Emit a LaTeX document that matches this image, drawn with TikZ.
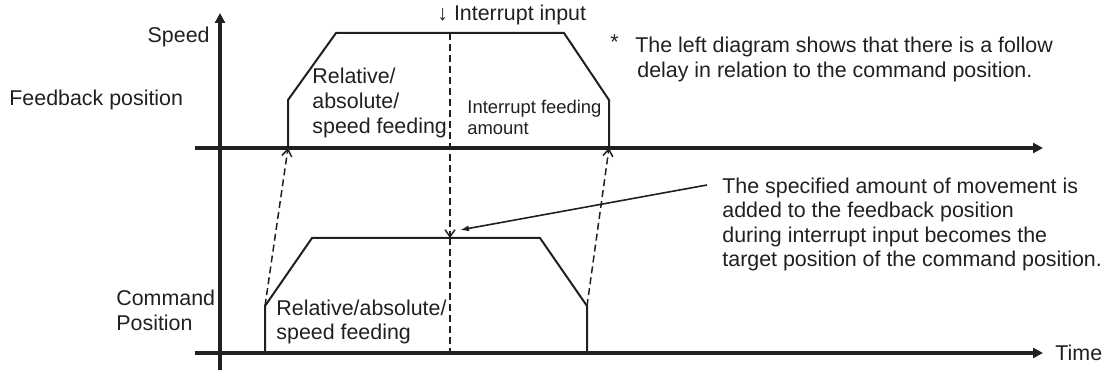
\documentclass[tikz,border=0pt]{standalone}
\usepackage{fontspec}
\setmainfont{Liberation Sans}
\usetikzlibrary{arrows.meta,positioning}
\definecolor{ink}{HTML}{231F20}

\begin{document}
\begin{tikzpicture}[x=0.5pt,y=-0.5pt,>={Triangle[length=5pt,width=5pt]},
  every node/.style={inner sep=0pt,text=ink,font=\fontsize{10.7}{12.3}\selectfont},
  axis/.style={line width=1.7pt,draw=ink},
  profile/.style={line width=1pt,draw=ink},
  follow/.style={draw=ink,line width=0.75pt,dash pattern=on 3.5pt off 2pt,
    -{Straight Barb[length=3.5pt,width=5pt]}}]
  \useasboundingbox (0,0) rectangle (1114,379);

  % axes
  \coordinate (origin) at (220,370);
  \coordinate (vtop) at (220,13);
  \coordinate (fbstart) at (195,148);
  \coordinate (fbend) at (1043,148);
  \coordinate (cmdstart) at (195,353);
  \coordinate (cmdend) at (1043,353);
  \draw[axis,->] (origin) -- (vtop);
  \draw[axis,->] (fbstart) -- (fbend);
  \draw[axis,->] (cmdstart) -- (cmdend);

  % feedback position profile
  \coordinate (fb1) at (288,148);
  \coordinate (fb2) at (288,100);
  \coordinate (fb3) at (336,33);
  \coordinate (fb4) at (564,33);
  \coordinate (fb5) at (609,100);
  \coordinate (fb6) at (609,148);
  \draw[profile] (fb1) -- (fb2) -- (fb3) -- (fb4) -- (fb5) -- (fb6);

  % command position profile
  \coordinate (cmd1) at (265,353);
  \coordinate (cmd2) at (265,306);
  \coordinate (cmd3) at (312,238);
  \coordinate (cmd4) at (540,238);
  \coordinate (cmd5) at (587,306);
  \coordinate (cmd6) at (587,353);
  \draw[profile] (cmd1) -- (cmd2) -- (cmd3) -- (cmd4) -- (cmd5) -- (cmd6);

  % follow delay
  \draw[follow] (cmd2) -- (fb1);
  \draw[follow] (cmd5) -- (fb6);

  % interrupt input
  \coordinate (irtop) at (450,33);
  \coordinate (irhit) at (450,238);
  \coordinate (irbot) at (450,353);
  \draw[follow] (irtop) -- (irhit);
  \draw[follow,-] (irhit) -- (irbot);

  % labels
  \node[anchor=east] (speed) at (210,37) {Speed};
  \node[anchor=west] (fblabel) at (9,100) {Feedback position};
  \node[anchor=west,align=left] (cmdlabel) at (116,310.5) {Command\\Position};
  \node[right=6pt of cmdend] (time) {Time};
  \node[anchor=west] (irlabel) at (437,15) {↓ Interrupt input};
  \node[anchor=west,align=left] (fbfeed) at (312,103) {Relative/\\absolute/\\speed feeding};
  \node[anchor=west,align=left,font=\fontsize{9.2}{10.5}\selectfont] (irfeed) at (467,117.5) {Interrupt feeding\\amount};
  \node[anchor=west,align=left] (cmdfeed) at (276,322) {Relative/absolute/\\speed feeding};
  \node (star) at (614.5,42) {*};
  \node[anchor=west,align=left] (delaynote) at (635,59.5) {The left diagram shows that there is a follow\\\hspace*{1pt}delay in relation to the command position.};
  \node[anchor=west,align=left] (addnote) at (722,224.5) {The specified amount of movement is\\added to the feedback position\\during interrupt input becomes the\\target position of the command position.};

  % movement note
  \coordinate (addtail) at (707,185);
  \coordinate (addhead) at (460,230);
  \draw[draw=ink,line width=0.8pt,-{Latex[length=4.5pt,width=3pt]}] (addtail) -- (addhead);
\end{tikzpicture}
\end{document}
